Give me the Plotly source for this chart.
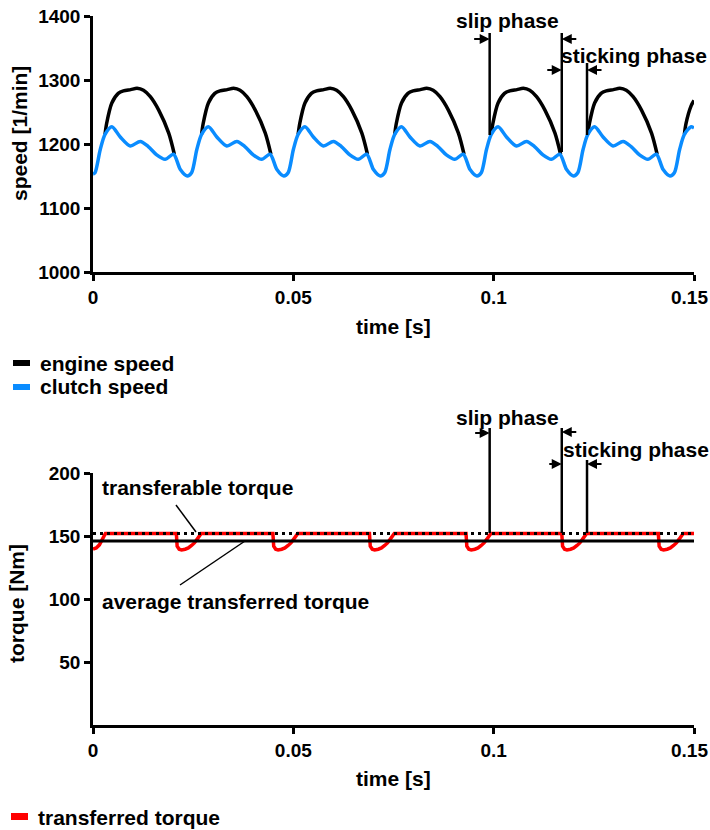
import plotly.graph_objects as go

# ---------------- data ----------------
clutch_t = [0.0000, 0.0005, 0.0018, 0.0030, 0.0047, 0.0068, 0.0093, 0.0118, 0.0138, 0.0159, 0.0180, 0.0201, 0.0218,
            0.0235, 0.0246, 0.0259, 0.0271, 0.0288, 0.0309, 0.0334, 0.0359, 0.0379, 0.0400, 0.0421, 0.0442, 0.0459,
            0.0476, 0.0487, 0.0500, 0.0512, 0.0529, 0.0550, 0.0575, 0.0600, 0.0620, 0.0641, 0.0662, 0.0683, 0.0700,
            0.0717, 0.0728, 0.0741, 0.0753, 0.0770, 0.0791, 0.0816, 0.0841, 0.0861, 0.0882, 0.0903, 0.0924, 0.0941,
            0.0958, 0.0969, 0.0982, 0.0994, 0.1011, 0.1032, 0.1057, 0.1082, 0.1102, 0.1123, 0.1144, 0.1165, 0.1182,
            0.1199, 0.1210, 0.1223, 0.1235, 0.1252, 0.1273, 0.1298, 0.1323, 0.1343, 0.1364, 0.1385, 0.1406, 0.1423,
            0.1440, 0.1451, 0.1464, 0.1476, 0.1493, 0.1500]
clutch_v = [1153, 1155, 1191, 1215, 1227, 1211, 1197, 1204, 1196, 1183, 1176, 1184, 1160,
            1150, 1155, 1191, 1215, 1227, 1211, 1197, 1204, 1196, 1183, 1176, 1184, 1160,
            1150, 1155, 1191, 1215, 1227, 1211, 1197, 1204, 1196, 1183, 1176, 1184, 1160,
            1150, 1155, 1191, 1215, 1227, 1211, 1197, 1204, 1196, 1183, 1176, 1184, 1160,
            1150, 1155, 1191, 1215, 1227, 1211, 1197, 1204, 1196, 1183, 1176, 1184, 1160,
            1150, 1155, 1191, 1215, 1227, 1211, 1197, 1204, 1196, 1183, 1176, 1184, 1160,
            1150, 1155, 1191, 1215, 1227, 1225]

engine_t = [0.0030, 0.0034, 0.0047, 0.0063, 0.0076, 0.0094, 0.0110, 0.0126, 0.0143, 0.0164, 0.0189, 0.0203, None,
            0.0271, 0.0275, 0.0288, 0.0304, 0.0317, 0.0335, 0.0351, 0.0367, 0.0384, 0.0405, 0.0430, 0.0444, None,
            0.0512, 0.0516, 0.0529, 0.0545, 0.0558, 0.0576, 0.0592, 0.0608, 0.0625, 0.0646, 0.0671, 0.0685, None,
            0.0753, 0.0757, 0.0770, 0.0786, 0.0799, 0.0817, 0.0833, 0.0849, 0.0866, 0.0887, 0.0912, 0.0926, None,
            0.0994, 0.0998, 0.1011, 0.1027, 0.1040, 0.1058, 0.1074, 0.1090, 0.1107, 0.1128, 0.1153, 0.1167, None,
            0.1235, 0.1239, 0.1252, 0.1268, 0.1281, 0.1299, 0.1315, 0.1331, 0.1348, 0.1369, 0.1394, 0.1408, None,
            0.1476, 0.1480, 0.1493, 0.1500]
engine_v = [1215, 1232, 1264, 1279, 1283, 1285, 1287, 1284, 1274, 1253, 1217, 1184, None,
            1215, 1232, 1264, 1279, 1283, 1285, 1287, 1284, 1274, 1253, 1217, 1184, None,
            1215, 1232, 1264, 1279, 1283, 1285, 1287, 1284, 1274, 1253, 1217, 1184, None,
            1215, 1232, 1264, 1279, 1283, 1285, 1287, 1284, 1274, 1253, 1217, 1184, None,
            1215, 1232, 1264, 1279, 1283, 1285, 1287, 1284, 1274, 1253, 1217, 1184, None,
            1215, 1232, 1264, 1279, 1283, 1285, 1287, 1284, 1274, 1253, 1217, 1184, None,
            1215, 1232, 1260, 1268]

torque_t = [0.0000, 0.0008, 0.0016, 0.0023, 0.0028, 0.0031,
            0.0208, 0.0210, 0.0215, 0.0221, 0.0230, 0.0238, 0.0246, 0.0253, 0.0260, 0.0266, 0.0270,
            0.0449, 0.0451, 0.0456, 0.0462, 0.0471, 0.0479, 0.0487, 0.0494, 0.0501, 0.0507, 0.0511,
            0.0690, 0.0692, 0.0697, 0.0703, 0.0712, 0.0720, 0.0728, 0.0735, 0.0742, 0.0748, 0.0752,
            0.0931, 0.0933, 0.0938, 0.0944, 0.0953, 0.0961, 0.0969, 0.0976, 0.0983, 0.0989, 0.0993,
            0.1170, 0.1172, 0.1177, 0.1183, 0.1192, 0.1200, 0.1208, 0.1215, 0.1222, 0.1228, 0.1232,
            0.1411, 0.1413, 0.1418, 0.1424, 0.1433, 0.1441, 0.1449, 0.1456, 0.1463, 0.1469, 0.1473,
            0.1500]
torque_v = [139.5, 140.5, 143, 147, 151, 152,
            152, 142, 139.5, 139, 139.5, 140.5, 142.5, 144.5, 147.5, 151, 152,
            152, 142, 139.5, 139, 139.5, 140.5, 142.5, 144.5, 147.5, 151, 152,
            152, 142, 139.5, 139, 139.5, 140.5, 142.5, 144.5, 147.5, 151, 152,
            152, 142, 139.5, 139, 139.5, 140.5, 142.5, 144.5, 147.5, 151, 152,
            152, 142, 139.5, 139, 139.5, 140.5, 142.5, 144.5, 147.5, 151, 152,
            152, 142, 139.5, 139, 139.5, 140.5, 142.5, 144.5, 147.5, 151, 152,
            152]

level_t = [0.0, 0.15]
transferable_v = [152, 152]
average_v = [146, 146]

phase_times = [0.0990, 0.1170, 0.1233]   # slip start, slip end, sticking end

time_ticks = [0, 0.05, 0.1, 0.15]
time_labels = ["0", "0.05", "0.1", "0.15"]
speed_ticks = [1000, 1100, 1200, 1300, 1400]
torque_ticks = [50, 100, 150, 200]

# ---------------- layout helpers ----------------
W, H = 710, 830
ML, MR, MT, MB = 93, 16, 16, 105
PW, PH = W - ML - MR, H - MT - MB
FONT = "Liberation Sans, Arial, sans-serif"
BLUE = "#0A8CFF"


def px(xp):
    return (xp - ML) / PW


def py(yp):
    return (H - MB - yp) / PH


top_dom = [py(272), 1.0]
bot_dom = [0.0, py(725 - 252)]

# the last time label is placed by hand so it stays inside the page
axis_labels = time_labels[:-1] + [""]

fig = go.Figure()

fig.add_trace(go.Scatter(x=engine_t, y=engine_v, mode="lines", name="engine speed",
                         line=dict(color="black", width=3.5, shape="spline", smoothing=0.8),
                         connectgaps=False, xaxis="x", yaxis="y"))
fig.add_trace(go.Scatter(x=clutch_t, y=clutch_v, mode="lines", name="clutch speed",
                         line=dict(color=BLUE, width=3.5, shape="spline", smoothing=0.8),
                         xaxis="x", yaxis="y"))
fig.add_trace(go.Scatter(x=torque_t, y=torque_v, mode="lines", name="transferred torque",
                         line=dict(color="#FF0000", width=3.5),
                         xaxis="x2", yaxis="y2"))
fig.add_trace(go.Scatter(x=level_t, y=average_v, mode="lines", name="average transferred torque",
                         line=dict(color="black", width=3),
                         xaxis="x2", yaxis="y2"))
fig.add_trace(go.Scatter(x=level_t, y=transferable_v, mode="lines", name="transferable torque",
                         line=dict(color="black", width=3, dash="3px,4px"),
                         xaxis="x2", yaxis="y2"))

axis_common = dict(showline=True, linecolor="black", linewidth=2.5, ticks="outside",
                   ticklen=6, tickwidth=2.5, tickcolor="black", showgrid=False, zeroline=False,
                   automargin=False,
                   tickfont=dict(family=FONT, size=19, color="black", weight="bold"))

fig.update_layout(
    width=W, height=H, autosize=False,
    margin=dict(l=ML, r=MR, t=MT, b=MB, autoexpand=False),
    paper_bgcolor="white", plot_bgcolor="white",
    showlegend=False,
    font=dict(family=FONT, size=21, color="black", weight="bold"),
    xaxis=dict(domain=[0, 1], anchor="y", range=[0, 0.15], tickvals=time_ticks,
               ticktext=axis_labels, **axis_common),
    yaxis=dict(domain=top_dom, anchor="x", range=[1000, 1400], tickvals=speed_ticks, **axis_common),
    xaxis2=dict(domain=[0, 1], anchor="y2", range=[0, 0.15], tickvals=time_ticks,
                ticktext=axis_labels, **axis_common),
    yaxis2=dict(domain=bot_dom, anchor="x2", range=[0, 200], tickvals=torque_ticks, **axis_common),
)

ann = []
shapes = []


def text(s, xp, yp, xanchor="center", angle=0, size=21):
    ann.append(dict(text=s, x=px(xp), y=py(yp), xref="paper", yref="paper", showarrow=False,
                    xanchor=xanchor, yanchor="middle", textangle=angle,
                    font=dict(family=FONT, size=size, color="black", weight="bold")))


def vline(xd, xref, y0p, y1p):
    shapes.append(dict(type="line", xref=xref, yref="paper", x0=xd, x1=xd, y0=py(y0p), y1=py(y1p),
                       line=dict(color="black", width=2.5)))


def arrow(xd, xref, yp, dx):
    ann.append(dict(text="", x=xd, y=py(yp), xref=xref, yref="paper", showarrow=True,
                    ax=dx, ay=0, axref="pixel", ayref="pixel", arrowhead=2, arrowsize=1,
                    arrowwidth=2, arrowcolor="black", standoff=0))


# last time tick labels
text(time_labels[-1], 689, 297, size=19)
text(time_labels[-1], 689, 750, size=19)

# axis titles
text("speed [1/min]", 20, 134, angle=-90)
text("time [s]", 393, 326)
text("torque [Nm]", 16, 604, angle=-90)
text("time [s]", 393, 778)

# top chart phase markers
text("slip phase", 507, 21)
text("sticking phase", 634, 55)
vline(phase_times[0], "x", 135, 33)
vline(phase_times[1], "x", 152, 33)
vline(phase_times[2], "x", 135, 63)
arrow(phase_times[0], "x", 39, -17)
arrow(phase_times[1], "x", 39, 16)
arrow(phase_times[1], "x", 70, -16)
arrow(phase_times[2], "x", 70, 16)

# bottom chart phase markers
text("slip phase", 507, 417)
text("sticking phase", 636, 450)
vline(phase_times[0], "x2", 533, 428)
vline(phase_times[1], "x2", 533, 428)
vline(phase_times[2], "x2", 533, 460)
arrow(phase_times[0], "x2", 433, -16)
arrow(phase_times[1], "x2", 432, 16)
arrow(phase_times[1], "x2", 464, -14)
arrow(phase_times[2], "x2", 464, 16)

# torque labels with leader lines
text("transferable torque", 100, 487, xanchor="left")
text("average transferred torque", 100, 601, xanchor="left")
shapes.append(dict(type="line", xref="paper", yref="paper", x0=px(176), y0=py(505), x1=px(196), y1=py(532),
                   line=dict(color="black", width=1.5)))
shapes.append(dict(type="line", xref="paper", yref="paper", x0=px(180), y0=py(585), x1=px(245), y1=py(541),
                   line=dict(color="black", width=1.5)))

# legends
for label, color, x0, x1, y0, y1, tx, ty in [
    ("engine speed", "black", 13, 30, 360, 366, 38, 363),
    ("clutch speed", BLUE, 13, 30, 384, 390, 38, 386),
    ("transferred torque", "#FF0000", 11, 28, 813, 820, 36, 817),
]:
    shapes.append(dict(type="rect", xref="paper", yref="paper", x0=px(x0), x1=px(x1), y0=py(y1), y1=py(y0),
                       fillcolor=color, line=dict(width=0)))
    text(label, tx, ty, xanchor="left")

fig.update_layout(annotations=ann, shapes=shapes)
fig.write_html("out.html", config={"displayModeBar": False},
               post_script="document.body.style.margin='0px';document.body.style.padding='0px';")
